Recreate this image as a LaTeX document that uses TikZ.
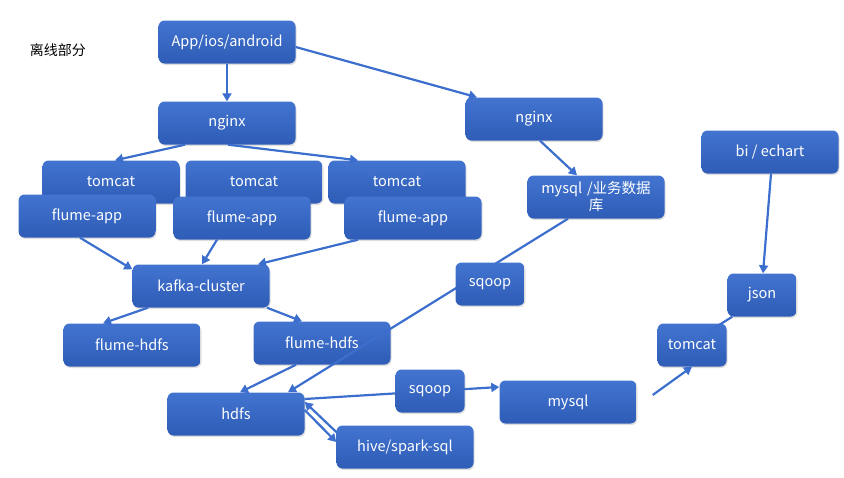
\documentclass[tikz,border=0pt]{standalone}
\usepackage{fontspec}
\setmainfont{Noto Sans CJK SC}
\usepackage{tikz}
\usetikzlibrary{positioning, arrows.meta, shadows}

\definecolor{boxtop}{RGB}{66,116,208}
\definecolor{boxbot}{RGB}{46,92,182}
\definecolor{linkblue}{RGB}{60,110,205}

\begin{document}
\begin{tikzpicture}[x=1pt, y=-1pt]
	% Define styles
	\tikzset{
		block/.style={rectangle, rounded corners=6pt, top color=boxtop, bottom color=boxbot, draw=none,
			text=white, minimum width=137pt, minimum height=43pt, align=center, inner sep=2pt,
			font=\fontsize{14.5}{17}\selectfont,
			drop shadow={opacity=0.25, shadow xshift=1pt, shadow yshift=-1.5pt}},
		small/.style={block, minimum width=69pt},
		line/.style={draw=linkblue, line width=2.2pt, -{Triangle[width=9pt, length=8pt]}},
		plain/.style={draw=linkblue, line width=2.2pt}
	}
	\useasboundingbox (0,0) rectangle (844,477);

	\node[font=\fontsize{14}{17}\selectfont] (title) at (58,50) {离线部分};

	% Nodes
	\node[block] (app) at (227,42) {App/ios/android};
	\node[block] (nginx1) at (227,123) {nginx};
	\node[block] (nginx2) at (534,119) {nginx};

	\node[block] (tomcat1) at (111,182) {tomcat};
	\node[block] (tomcat2) at (254,182) {tomcat};
	\node[block] (tomcat3) at (397,182) {tomcat};

	\node[block] (fapp1) at (87,216) {flume-app};
	\node[block] (fapp2) at (242,218) {flume-app};
	\node[block] (fapp3) at (413,218) {flume-app};

	\node[block] (kafka) at (201,286) {kafka-cluster};
	\node[block] (fhdfs1) at (132,345) {flume-hdfs};
	\node[block] (fhdfs2) at (322,343) {flume-hdfs};

	\node[block, text width=125pt] (mysqlbz) at (596,197) {mysql /业务数据\\库};

	\node[block] (hdfs) at (236,414) {hdfs};
	\node[block] (hive) at (405,447) {hive/spark-sql};
	\node[block] (mysql) at (568,402) {mysql};

	\node[block] (bi) at (770,152) {bi / echart};
	\node[small] (json) at (762,295) {json};
	\node[small] (tomcat4) at (692,345) {tomcat};

	% Arrows
	\path [line] (app) -- (nginx1);
	\path [line] ([yshift=-5pt]app.east) -- ([xshift=-57pt]nginx2.north);
	\path [line] ([xshift=-42pt]nginx1.south) -- ([xshift=4pt]tomcat1.north);
	\path [line] ([xshift=1pt]nginx1.south) -- ([xshift=-39pt]tomcat3.north);
	\path [line] ([xshift=6pt]nginx2.south) -- ([xshift=-19pt]mysqlbz.north);

	\path [line] ([xshift=-7pt]fapp1.south) -- ([yshift=-5pt]kafka.north west);
	\path [line] ([xshift=-25pt]fapp2.south) -- ([xshift=1pt]kafka.north);
	\path [line] ([xshift=-55pt]fapp3.south) -- ([xshift=57pt]kafka.north);

	\path [line] ([xshift=-53pt]kafka.south) -- ([xshift=-29pt]fhdfs1.north);
	\path [line] ([xshift=66pt]kafka.south) -- ([xshift=-20pt]fhdfs2.north);
	\path [line] ([xshift=-26pt]fhdfs2.south) -- ([xshift=4pt]hdfs.north);

	\path [line] ([xshift=-28pt]mysqlbz.south) -- ([xshift=52pt]hdfs.north);
	\path [line] ([yshift=15pt]hdfs.east) -- ([yshift=15pt]mysql.west);
	\path [line] ([yshift=15pt]hive.west) -- ([yshift=12pt]hdfs.east);
	\path [line] ([yshift=4pt]hdfs.east) -- ([yshift=5pt]hive.west);

	\path [line] ([xshift=16pt, yshift=7pt]mysql.east) -- (tomcat4.south);
	\path [line] ([xshift=1pt]bi.south) -- ([xshift=1pt]json.north);

	% sqoop boxes sit on top of the lines
	\node[small] (sqoop1) at (490,284) {sqoop};
	\node[small] (sqoop2) at (430,391) {sqoop};

	\path [plain] ([xshift=5pt]json.south west) -- ([xshift=16pt, yshift=13pt]tomcat4.center);
\end{tikzpicture}
\end{document}
